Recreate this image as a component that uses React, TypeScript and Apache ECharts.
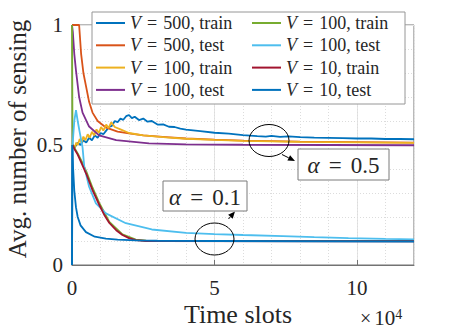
import React, { useEffect, useRef } from "react";
import * as echarts from "echarts";

// x values are in units of 10^4 time slots
const seriesKeys = ["v500train", "v500test", "v100trainA", "v100testA", "v100trainB", "v100testB", "v10train", "v10test"];
const legendLabels = ["V = 500, train", "V = 500, test", "V = 100, train", "V = 100, test", "V = 100, train", "V = 100, test", "V = 10, train", "V = 10, test"];
const colors = ["#0072BD", "#D95319", "#EDB120", "#7E2F8E", "#77AC30", "#4DBEEE", "#A2142F", "#0072BD"];

const v500train = [[0, 0], [0.02, 0.5], [0.1, 0.49], [0.2, 0.51], [0.3, 0.5], [0.4, 0.52], [0.5, 0.51], [0.6, 0.53], [0.7, 0.52], [0.8, 0.54], [0.9, 0.53], [1.0, 0.55], [1.1, 0.545], [1.2, 0.56], [1.3, 0.575], [1.4, 0.58], [1.5, 0.6], [1.6, 0.595], [1.7, 0.61], [1.8, 0.605], [1.9, 0.62], [2.0, 0.625], [2.1, 0.612], [2.2, 0.618], [2.35, 0.604], [2.5, 0.61], [2.65, 0.597], [2.8, 0.6], [3.0, 0.585], [3.2, 0.586], [3.4, 0.576], [3.6, 0.575], [3.8, 0.568], [4.0, 0.564], [4.5, 0.558], [5.0, 0.551], [5.5, 0.547], [6.0, 0.541], [6.5, 0.537], [6.8, 0.535], [7.0, 0.538], [7.3, 0.534], [7.6, 0.536], [8.0, 0.533], [8.5, 0.531], [9.0, 0.53], [9.5, 0.529], [10.0, 0.527], [10.5, 0.527], [11.0, 0.525], [11.5, 0.525], [12.0, 0.524]];
const v500test = [[0, 1], [0.25, 1], [0.32, 0.88], [0.4, 0.8], [0.5, 0.74], [0.6, 0.68], [0.72, 0.635], [0.9, 0.6], [1.2, 0.572], [1.6, 0.556], [2.0, 0.548], [2.5, 0.54], [3.3, 0.533], [4.0, 0.527], [5.0, 0.522], [6.0, 0.518], [8.0, 0.514], [10.0, 0.512], [12.0, 0.51]];
const v100trainA = [[0.03, 0.5], [0.1, 0.49], [0.15, 0.51], [0.2, 0.5], [0.27, 0.525], [0.33, 0.51], [0.4, 0.535], [0.47, 0.52], [0.55, 0.545], [0.62, 0.53], [0.7, 0.555], [0.78, 0.54], [0.86, 0.565], [0.94, 0.55], [1.02, 0.575], [1.1, 0.56], [1.2, 0.585], [1.28, 0.57], [1.38, 0.595], [1.5, 0.575], [1.7, 0.565], [2.0, 0.55], [2.5, 0.54], [3.3, 0.532], [4.0, 0.526], [5.0, 0.521], [6.0, 0.517], [8.0, 0.513], [10.0, 0.511], [12.0, 0.509]];
const v100testA = [[0, 1], [0.03, 0.97], [0.08, 0.88], [0.14, 0.81], [0.25, 0.7], [0.37, 0.635], [0.6, 0.577], [0.95, 0.54], [1.55, 0.52], [2.7, 0.507], [4.0, 0.503], [6.0, 0.501], [9.0, 0.5], [12.0, 0.499]];
const v100trainB = [[0, 1], [0.02, 0.5], [0.1, 0.485], [0.2, 0.465], [0.35, 0.43], [0.5, 0.39], [0.72, 0.322], [0.96, 0.258], [1.31, 0.18], [1.77, 0.128], [2.24, 0.106], [2.6, 0.101], [12.0, 0.1]];
const v100testB = [[0.02, 0.5], [0.08, 0.6], [0.14, 0.645], [0.2, 0.6], [0.26, 0.56], [0.37, 0.49], [0.43, 0.41], [0.6, 0.326], [0.84, 0.257], [1.19, 0.215], [1.89, 0.174], [2.8, 0.148], [4.0, 0.134], [5.0, 0.129], [6.0, 0.125], [7.4, 0.12], [8.5, 0.116], [9.7, 0.112], [11.0, 0.109], [12.0, 0.107]];
const v10train = [[0.02, 0.5], [0.1, 0.48], [0.2, 0.46], [0.35, 0.42], [0.5, 0.38], [0.72, 0.312], [0.96, 0.25], [1.15, 0.205], [1.31, 0.175], [1.55, 0.145], [1.77, 0.125], [2.0, 0.112], [2.24, 0.104], [2.6, 0.1], [12.0, 0.099]];
const v10test = [[0, 0], [0.01, 0.5], [0.04, 0.4], [0.08, 0.31], [0.14, 0.24], [0.2, 0.2], [0.3, 0.165], [0.49, 0.137], [0.8, 0.118], [1.19, 0.11], [1.6, 0.106], [2.24, 0.103], [3.0, 0.101], [5.0, 0.1], [8.0, 0.099], [12.0, 0.098]];
const seriesData = [v500train, v500test, v100trainA, v100testA, v100trainB, v100testB, v10train, v10test];

const xRange = [0, 12];
const yRange = [0, 1];
const FONT = "Liberation Serif";
const TXT = "#262626";

function arrow(x1: number, y1: number, x2: number, y2: number) {
  const dx = x2 - x1, dy = y2 - y1;
  const L = Math.hypot(dx, dy);
  const ux = dx / L, uy = dy / L;
  const hl = 7, hw = 3;
  const bx = x2 - ux * hl, by = y2 - uy * hl;
  return [
    { type: "line", z: 5, shape: { x1, y1, x2: bx, y2: by }, style: { stroke: "#000", lineWidth: 1 } },
    { type: "polygon", z: 5, shape: { points: [[x2, y2], [bx - uy * hw, by + ux * hw], [bx + uy * hw, by - ux * hw]] }, style: { fill: "#000" } },
  ];
}

function alphaBox(x: number, y: number, w: number, h: number, val: string) {
  return [
    { type: "rect", z: 5, shape: { x, y, width: w, height: h }, style: { fill: "#fff", stroke: "#7a7a7a", lineWidth: 1 } },
    {
      type: "text", z: 6, x: x + w / 2, y: y + h / 2 + 1,
      style: {
        text: `{a|α}{e|=}{t|${val}}`, align: "center", verticalAlign: "middle",
        rich: {
          a: { fontFamily: FONT, fontSize: 23, fontStyle: "italic", fill: TXT },
          e: { fontFamily: FONT, fontSize: 23, fill: TXT, padding: [0, 9] },
          t: { fontFamily: FONT, fontSize: 23, fill: TXT },
        },
      },
    },
  ];
}

const legendRich = {
  v: { fontFamily: FONT, fontSize: 18, fontStyle: "italic", color: TXT },
  e: { fontFamily: FONT, fontSize: 18, color: TXT, padding: [0, 6] },
  t: { fontFamily: FONT, fontSize: 18, color: TXT },
};
const legendFormatter = (name: string) => {
  const i = seriesKeys.indexOf(name);
  const lab = legendLabels[i];
  const rest = lab.slice(lab.indexOf("=") + 1).trim();
  return `{v|V}{e|=}{t|${rest}}`;
};

function makeLegend(names: string[], left: number) {
  return {
    data: names,
    orient: "vertical",
    left,
    top: 14,
    padding: 0,
    itemGap: 4.3,
    itemWidth: 29,
    itemHeight: 2,
    icon: "rect",
    selectedMode: false,
    formatter: legendFormatter,
    textStyle: { fontFamily: FONT, fontSize: 18, lineHeight: 18, color: TXT, rich: legendRich },
  };
}

export default function App() {
  const ref = useRef<HTMLDivElement>(null);
  useEffect(() => {
    if (!ref.current) return;
    const chart = echarts.init(ref.current, undefined, { renderer: "svg" });
    const option: any = {
      animation: false,
      backgroundColor: "#fff",
      textStyle: { fontFamily: FONT },
      grid: { left: 72, right: 44, top: 25, bottom: 71, show: true, borderColor: "#737373", borderWidth: 1 },
      xAxis: [
        {
          type: "value", min: xRange[0], max: xRange[1], interval: 5,
          axisLine: { show: true, lineStyle: { color: "#737373" } },
          axisTick: { show: true, inside: true, length: 5, lineStyle: { color: "#737373" } },
          axisLabel: { fontFamily: FONT, fontSize: 21, color: TXT, margin: 12, showMaxLabel: false },
          splitLine: { show: true, lineStyle: { color: "#e4e4e4", width: 1 } },
        },
        {
          type: "value", min: xRange[0], max: xRange[1], interval: 1, position: "top",
          axisLine: { show: false }, axisTick: { show: false }, axisLabel: { show: false },
          splitLine: { show: true, lineStyle: { color: "#dcdcdc", width: 1, type: [1, 2] } },
        },
      ],
      yAxis: {
        type: "value", min: yRange[0], max: yRange[1], interval: 0.5,
        axisLine: { show: true, lineStyle: { color: "#737373" } },
        axisTick: { show: true, inside: true, length: 5, lineStyle: { color: "#737373" } },
        axisLabel: { fontFamily: FONT, fontSize: 21, color: TXT, margin: 9 },
        splitLine: { show: true, lineStyle: { color: "#e4e4e4", width: 1 } },
        minorTick: { show: false, splitNumber: 5 },
        minorSplitLine: { show: true, lineStyle: { color: "#dcdcdc", width: 1, type: [1, 2] } },
      },
      legend: [makeLegend(seriesKeys.slice(0, 4), 96), makeLegend(seriesKeys.slice(4), 252)],
      series: seriesKeys.map((k, i) => ({
        name: k,
        type: "line",
        xAxisIndex: 0,
        data: seriesData[i],
        showSymbol: false,
        symbol: "none",
        color: colors[i],
        lineStyle: { width: 1.8, color: colors[i] },
        emphasis: { disabled: true },
        silent: true,
      })),
      graphic: [
        { type: "rect", z: 3, shape: { x: 92, y: 12, width: 313, height: 92 }, style: { fill: "#fff", stroke: "#969696", lineWidth: 1 } },
        { type: "ellipse", z: 5, shape: { cx: 269, cy: 140.5, rx: 20, ry: 16 }, style: { fill: "none", stroke: "#000", lineWidth: 1 } },
        ...arrow(282, 154.5, 295, 161),
        ...alphaBox(298, 149, 91, 31, "0.5"),
        { type: "ellipse", z: 5, shape: { cx: 214.5, cy: 239, rx: 19.5, ry: 16 }, style: { fill: "none", stroke: "#000", lineWidth: 1 } },
        ...arrow(228.5, 219, 235, 211.5),
        ...alphaBox(163, 181, 84, 30, "0.1"),
        {
          type: "text", x: 17, y: 139, rotation: Math.PI / 2,
          style: { text: "Avg. number of sensing", fontFamily: FONT, fontSize: 25, fill: TXT, align: "center", verticalAlign: "middle" },
        },
        {
          type: "text", x: 238, y: 314,
          style: { text: "Time slots", fontFamily: FONT, fontSize: 26, fill: TXT, align: "center", verticalAlign: "middle" },
        },
        {
          type: "text", x: 360, y: 318,
          style: {
            text: "{m|×}{n|10}{s|4}", align: "left", verticalAlign: "middle",
            rich: {
              m: { fontFamily: FONT, fontSize: 20, fill: TXT, padding: [0, 3, 0, 0] },
              n: { fontFamily: FONT, fontSize: 21, fill: TXT, lineHeight: 22 },
              s: { fontFamily: FONT, fontSize: 14, fill: TXT, verticalAlign: "top", lineHeight: 12 },
            },
          },
        },
      ],
    };
    chart.setOption(option);
    return () => chart.dispose();
  }, []);
  return <div ref={ref} style={{ position: "fixed", left: 0, top: 0, width: 458, height: 336 }} />;
}
